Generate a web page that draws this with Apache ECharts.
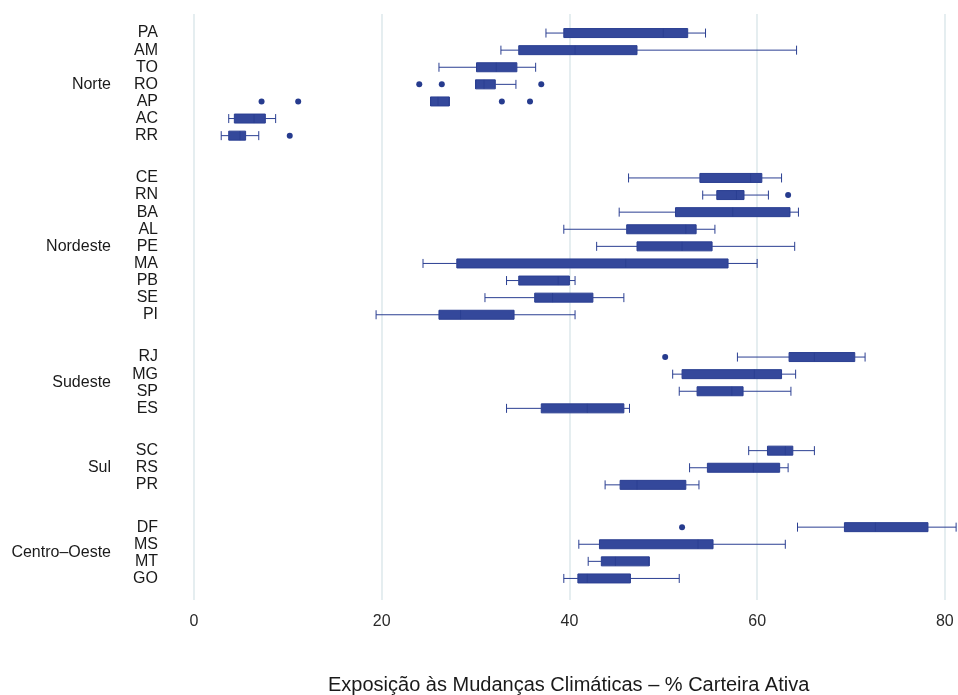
<!DOCTYPE html>
<html>
<head>
<meta charset="utf-8">
<script src="https://cdn.jsdelivr.net/npm/echarts@6/dist/echarts.min.js"></script>
<style>
  html, body { margin: 0; padding: 0; background: #fff; }
  #main { width: 958px; height: 695px; }
</style>
</head>
<body>
<div id="main"></div>
<script>
// regions and their states (top to bottom)
var regions = ['Norte', 'Nordeste', 'Sudeste', 'Sul', 'Centro–Oeste'];
var regionStates = [
  ['PA', 'AM', 'TO', 'RO', 'AP', 'AC', 'RR'],
  ['CE', 'RN', 'BA', 'AL', 'PE', 'MA', 'PB', 'SE', 'PI'],
  ['RJ', 'MG', 'SP', 'ES'],
  ['SC', 'RS', 'PR'],
  ['DF', 'MS', 'MT', 'GO']
];

// box statistics, same order as the states above
var whiskerLow  = [37.5, 32.7, 26.1, 30.0, 25.2, 3.7, 2.9,  46.3, 54.2, 45.3, 39.4, 42.9, 24.4, 33.3, 31.0, 19.4,  57.9, 51.0, 51.7, 33.3,  59.1, 52.8, 43.8,  64.3, 41.0, 42.0, 39.4];
var q1          = [39.4, 34.6, 30.1, 30.0, 25.2, 4.3, 3.7,  53.9, 55.7, 51.3, 46.1, 47.2, 28.0, 34.6, 36.3, 26.1,  63.4, 52.0, 53.6, 37.0,  61.1, 54.7, 45.4,  69.3, 43.2, 43.4, 40.9];
var median      = [50.0, 40.6, 32.2, 30.9, 26.0, 6.4, 4.9,  59.3, 57.8, 57.4, 52.4, 52.0, 46.0, 38.8, 38.2, 28.4,  66.1, 59.7, 57.3, 41.9,  63.0, 59.6, 47.2,  72.6, 53.7, 44.9, 41.9];
var q3          = [52.6, 47.2, 34.4, 32.1, 27.2, 7.6, 5.5,  60.5, 58.6, 63.5, 53.5, 55.2, 56.9, 40.0, 42.5, 34.1,  70.4, 62.6, 58.5, 45.8,  63.8, 62.4, 52.4,  78.2, 55.3, 48.5, 46.5];
var whiskerHigh = [54.5, 64.2, 36.4, 34.3, 27.2, 8.7, 6.9,  62.6, 61.2, 64.4, 55.5, 64.0, 60.0, 40.6, 45.8, 40.6,  71.5, 64.1, 63.6, 46.4,  66.1, 63.3, 53.8,  81.2, 63.0, 48.5, 51.7];

// outliers
var outlierState = ['RO', 'RO', 'RO', 'AP', 'AP', 'AP', 'AP', 'RR', 'RN', 'RJ', 'DF'];
var outlierValue = [24.0, 26.4, 37.0, 7.2, 11.1, 32.8, 35.8, 10.2, 63.3, 50.2, 52.0];

var xTicks = [0, 20, 40, 60, 80];

(function () {
  var chart = echarts.init(document.getElementById('main'));

  var rowH = 17.1, panelGap = 25.2, firstTop = 24.5;
  var plotLeft = 194, xMax = 81.4;
  var fontFam = '"Liberation Sans", Arial, sans-serif';
  var txt = '#1a1a1a';
  var boxColor = '#34489b', lineColor = '#2b3f92';

  var grids = [{ left: plotLeft, right: 0, top: 14, bottom: 95 }];
  var xAxes = [{
    type: 'value', gridIndex: 0, min: 0, max: xMax, interval: 20,
    axisLine: { show: false }, axisTick: { show: false },
    axisLabel: { fontSize: 16, color: '#2a2a2a', fontFamily: fontFam, margin: 14,
      showMaxLabel: false,
      formatter: function (v) { return xTicks.indexOf(v) >= 0 ? v : ''; } },
    splitLine: { show: true, showMaxLine: false, lineStyle: { color: '#e3ecef', width: 1.8 } }
  }];
  var yAxes = [{ type: 'value', gridIndex: 0, show: false }];
  var series = [];

  var panelTop = firstTop, k = 0;
  regionStates.forEach(function (list, r) {
    var g = r + 1;
    grids.push({ left: plotLeft, right: 0, top: panelTop, height: list.length * rowH });
    panelTop += list.length * rowH + panelGap;
    xAxes.push({ type: 'value', gridIndex: g, min: 0, max: xMax, show: false });
    yAxes.push({
      type: 'category', gridIndex: g, data: list, inverse: true,
      axisLine: { show: false }, axisTick: { show: false }, splitLine: { show: false },
      axisLabel: { interval: 0, fontSize: 16, color: txt, fontFamily: fontFam, margin: 36 },
      name: regions[r], nameLocation: 'middle', nameRotate: 0, nameGap: 83,
      nameTextStyle: { fontSize: 16, color: txt, fontFamily: fontFam, align: 'right', verticalAlign: 'middle' }
    });
    var boxes = [];
    list.forEach(function () {
      boxes.push([whiskerLow[k], q1[k], median[k], q3[k], whiskerHigh[k]]);
      k++;
    });
    series.push({
      type: 'boxplot', xAxisIndex: g, yAxisIndex: g, data: boxes,
      boxWidth: [9, 9],
      itemStyle: { color: boxColor, borderColor: lineColor, borderWidth: 1 },
      emphasis: { disabled: true }
    });
    var pts = [];
    outlierState.forEach(function (s, i) {
      if (list.indexOf(s) >= 0) pts.push([outlierValue[i], s]);
    });
    series.push({
      type: 'scatter', xAxisIndex: g, yAxisIndex: g, data: pts,
      symbolSize: 6, itemStyle: { color: '#263b8e', opacity: 1 }, emphasis: { disabled: true }
    });
  });

  chart.setOption({
    animation: false,
    grid: grids,
    xAxis: xAxes,
    yAxis: yAxes,
    series: series,
    graphic: [{
      type: 'text', left: 328, top: 675,
      style: { text: 'Exposição às Mudanças Climáticas – % Carteira Ativa',
        fontSize: 20, fill: txt, fontFamily: fontFam }
    }]
  });
})();
</script>
</body>
</html>
